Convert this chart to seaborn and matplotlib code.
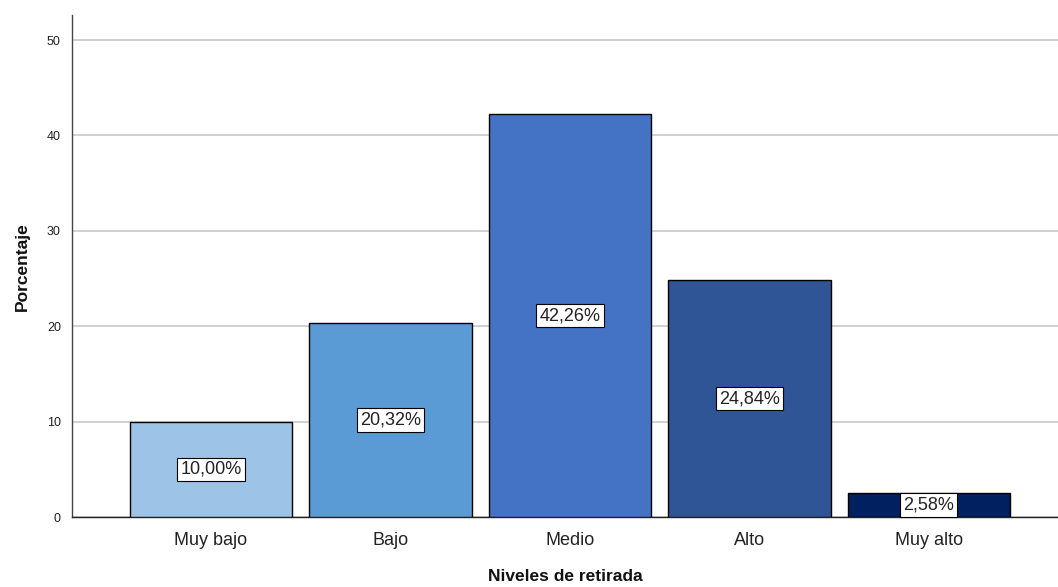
import matplotlib
matplotlib.use("Agg")
import matplotlib.pyplot as plt
import seaborn as sns
import pandas as pd

categorias = ["Muy bajo", "Bajo", "Medio", "Alto", "Muy alto"]
porcentajes = [10.00, 20.32, 42.26, 24.84, 2.58]
etiquetas = ["10,00%", "20,32%", "42,26%", "24,84%", "2,58%"]
colores = ["#9DC3E6", "#5B9BD5", "#4472C4", "#2F5597", "#002060"]
yticks = [0, 10, 20, 30, 40, 50]

sns.set_theme(style="white")
plt.rcParams['font.family'] = ['Liberation Sans', 'DejaVu Sans']

df = pd.DataFrame({"cat": categorias, "pct": porcentajes})

fig = plt.figure(figsize=(10.58, 5.87), dpi=100)
ax = fig.add_axes([0.068, 0.119, 0.932, 0.855])

sns.barplot(data=df, x="cat", y="pct", hue="cat", palette=colores, order=categorias,
            hue_order=categorias, dodge=False, width=0.905, edgecolor="black",
            linewidth=1.0, saturation=1, legend=False, ax=ax, zorder=3)

for i, (v, t) in enumerate(zip(porcentajes, etiquetas)):
    ax.text(i, v / 2, t, ha="center", va="center", fontsize=13, color="#222222",
            bbox=dict(boxstyle="square,pad=0.18", facecolor="white", edgecolor="black", linewidth=0.8),
            zorder=5)

ax.set_xlim(-0.775, 4.72)
ax.set_ylim(0, 52.6)
ax.set_yticks(yticks)
ax.set_yticklabels([str(t) for t in yticks], fontsize=9, color="#222222")
ax.tick_params(axis="x", labelsize=13, colors="#222222", length=0, pad=11)
ax.tick_params(axis="y", length=0, pad=8)
ax.yaxis.grid(True, color="#C8C8C8", linewidth=1.2, zorder=0)
ax.set_axisbelow(True)

for s in ["top", "right"]:
    ax.spines[s].set_visible(False)
ax.spines["left"].set_color("#444444")
ax.spines["bottom"].set_color("#222222")
ax.spines["left"].set_linewidth(1.0)
ax.spines["bottom"].set_linewidth(1.0)

ax.set_xlabel("Niveles de retirada", fontsize=12.5, fontweight="bold", labelpad=14, color="#111111")
ax.set_ylabel("Porcentaje", fontsize=12.5, fontweight="bold", labelpad=12, color="#111111")

fig.savefig("out.png", dpi=100)
